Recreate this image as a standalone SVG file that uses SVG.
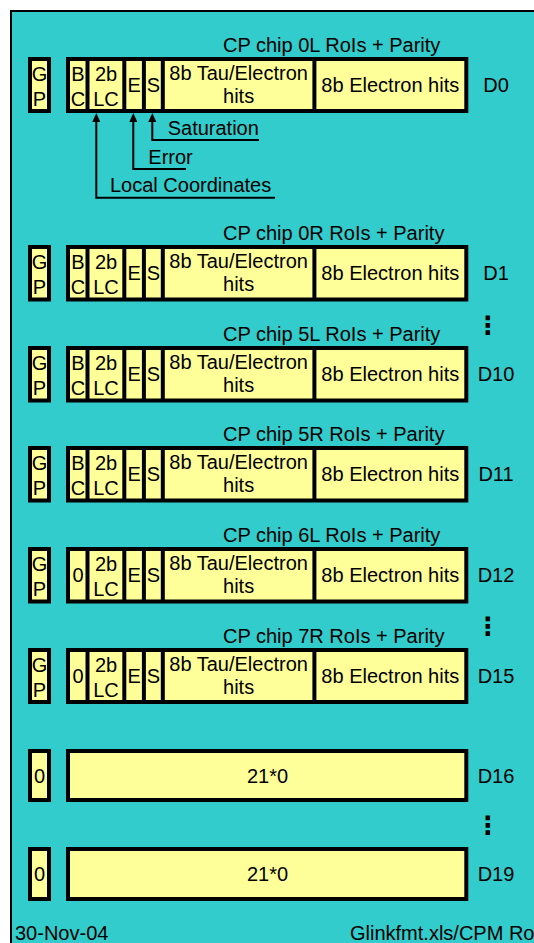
<svg xmlns="http://www.w3.org/2000/svg" width="534" height="943" viewBox="0 0 534 943">
<style>
  text { font-family: "Liberation Sans", Arial, sans-serif; font-size: 20px; fill: #000; }
  .m { text-anchor: middle; }
  .box { fill: #FFFF99; stroke: #000; stroke-width: 4; }
  .div { stroke: #000; stroke-width: 4; }
  .lead { fill: none; stroke: #000; stroke-width: 2; }
  .dots { font-family: "DejaVu Sans", sans-serif; font-weight: bold; font-size: 25px; text-anchor: middle; }
</style>
<defs>
  <marker id="arr" markerUnits="userSpaceOnUse" markerWidth="9" markerHeight="8" viewBox="0 0 9 8" refX="0" refY="4" orient="auto">
    <path d="M0,0 L9,4 L0,8 z" fill="#000"/>
  </marker>
</defs>
<rect x="0" y="0" width="534" height="943" fill="#fff"/>
<rect x="11" y="11" width="540" height="950" fill="#33CCCC" stroke="#000" stroke-width="2"/>

<g id="D0" transform="translate(0,59)">
  <text x="223" y="-7">CP chip 0L RoIs + Parity</text>
  <rect class="box" x="30" y="0" width="19" height="52"/>
  <text class="m" x="39.5" y="22">G</text><text class="m" x="39.5" y="46.5">P</text>
  <rect class="box" x="68" y="0" width="398.3" height="52"/>
  <line class="div" x1="87.5" y1="0" x2="87.5" y2="52"/><line class="div" x1="124.3" y1="0" x2="124.3" y2="52"/>
  <line class="div" x1="143.9" y1="0" x2="143.9" y2="52"/><line class="div" x1="162.8" y1="0" x2="162.8" y2="52"/>
  <line class="div" x1="314.4" y1="0" x2="314.4" y2="52"/>
  <text class="m" x="78" y="22">B</text><text class="m" x="78" y="46.5">C</text>
  <text class="m" x="106" y="22">2b</text><text class="m" x="106" y="46.5">LC</text>
  <text class="m" x="134.1" y="33">E</text><text class="m" x="153.4" y="33">S</text>
  <text class="m" x="238.6" y="20.5">8b Tau/Electron</text><text class="m" x="238.6" y="44">hits</text>
  <text class="m" x="390.3" y="33">8b Electron hits</text>
  <text class="m" x="496" y="33">D0</text>
</g>

<g id="connectors">
  <path class="lead" d="M259,140 H152.3 V122" marker-end="url(#arr)"/>
  <path class="lead" d="M186,169 H133.3 V122" marker-end="url(#arr)"/>
  <path class="lead" d="M275,197.7 H96.3 V122" marker-end="url(#arr)"/>
  <text x="167.7" y="135">Saturation</text>
  <text x="148.3" y="163.7">Error</text>
  <text x="110" y="192.3">Local Coordinates</text>
</g>

<g id="D1" transform="translate(0,247)">
  <text x="223" y="-7">CP chip 0R RoIs + Parity</text>
  <rect class="box" x="30" y="0" width="19" height="52.5"/>
  <text class="m" x="39.5" y="22">G</text><text class="m" x="39.5" y="46.5">P</text>
  <rect class="box" x="68" y="0" width="398.3" height="52.5"/>
  <line class="div" x1="87.5" y1="0" x2="87.5" y2="52.5"/><line class="div" x1="124.3" y1="0" x2="124.3" y2="52.5"/>
  <line class="div" x1="143.9" y1="0" x2="143.9" y2="52.5"/><line class="div" x1="162.8" y1="0" x2="162.8" y2="52.5"/>
  <line class="div" x1="314.4" y1="0" x2="314.4" y2="52.5"/>
  <text class="m" x="78" y="22">B</text><text class="m" x="78" y="46.5">C</text>
  <text class="m" x="106" y="22">2b</text><text class="m" x="106" y="46.5">LC</text>
  <text class="m" x="134.1" y="33">E</text><text class="m" x="153.4" y="33">S</text>
  <text class="m" x="238.6" y="20.5">8b Tau/Electron</text><text class="m" x="238.6" y="44">hits</text>
  <text class="m" x="390.3" y="33">8b Electron hits</text>
  <text class="m" x="496" y="33">D1</text>
</g>

<text class="dots" x="488" y="334">⋮</text>

<g id="D10" transform="translate(0,348)">
  <text x="223" y="-7">CP chip 5L RoIs + Parity</text>
  <rect class="box" x="30" y="0" width="19" height="52.5"/>
  <text class="m" x="39.5" y="22">G</text><text class="m" x="39.5" y="46.5">P</text>
  <rect class="box" x="68" y="0" width="398.3" height="52.5"/>
  <line class="div" x1="87.5" y1="0" x2="87.5" y2="52.5"/><line class="div" x1="124.3" y1="0" x2="124.3" y2="52.5"/>
  <line class="div" x1="143.9" y1="0" x2="143.9" y2="52.5"/><line class="div" x1="162.8" y1="0" x2="162.8" y2="52.5"/>
  <line class="div" x1="314.4" y1="0" x2="314.4" y2="52.5"/>
  <text class="m" x="78" y="22">B</text><text class="m" x="78" y="46.5">C</text>
  <text class="m" x="106" y="22">2b</text><text class="m" x="106" y="46.5">LC</text>
  <text class="m" x="134.1" y="33">E</text><text class="m" x="153.4" y="33">S</text>
  <text class="m" x="238.6" y="20.5">8b Tau/Electron</text><text class="m" x="238.6" y="44">hits</text>
  <text class="m" x="390.3" y="33">8b Electron hits</text>
  <text class="m" x="496" y="33">D10</text>
</g>

<g id="D11" transform="translate(0,448)">
  <text x="223" y="-7">CP chip 5R RoIs + Parity</text>
  <rect class="box" x="30" y="0" width="19" height="52.5"/>
  <text class="m" x="39.5" y="22">G</text><text class="m" x="39.5" y="46.5">P</text>
  <rect class="box" x="68" y="0" width="398.3" height="52.5"/>
  <line class="div" x1="87.5" y1="0" x2="87.5" y2="52.5"/><line class="div" x1="124.3" y1="0" x2="124.3" y2="52.5"/>
  <line class="div" x1="143.9" y1="0" x2="143.9" y2="52.5"/><line class="div" x1="162.8" y1="0" x2="162.8" y2="52.5"/>
  <line class="div" x1="314.4" y1="0" x2="314.4" y2="52.5"/>
  <text class="m" x="78" y="22">B</text><text class="m" x="78" y="46.5">C</text>
  <text class="m" x="106" y="22">2b</text><text class="m" x="106" y="46.5">LC</text>
  <text class="m" x="134.1" y="33">E</text><text class="m" x="153.4" y="33">S</text>
  <text class="m" x="238.6" y="20.5">8b Tau/Electron</text><text class="m" x="238.6" y="44">hits</text>
  <text class="m" x="390.3" y="33">8b Electron hits</text>
  <text class="m" x="496" y="33">D11</text>
</g>

<g id="D12" transform="translate(0,549)">
  <text x="223" y="-7">CP chip 6L RoIs + Parity</text>
  <rect class="box" x="30" y="0" width="19" height="52.5"/>
  <text class="m" x="39.5" y="22">G</text><text class="m" x="39.5" y="46.5">P</text>
  <rect class="box" x="68" y="0" width="398.3" height="52.5"/>
  <line class="div" x1="87.5" y1="0" x2="87.5" y2="52.5"/><line class="div" x1="124.3" y1="0" x2="124.3" y2="52.5"/>
  <line class="div" x1="143.9" y1="0" x2="143.9" y2="52.5"/><line class="div" x1="162.8" y1="0" x2="162.8" y2="52.5"/>
  <line class="div" x1="314.4" y1="0" x2="314.4" y2="52.5"/>
  <text class="m" x="78" y="33">0</text>
  <text class="m" x="106" y="22">2b</text><text class="m" x="106" y="46.5">LC</text>
  <text class="m" x="134.1" y="33">E</text><text class="m" x="153.4" y="33">S</text>
  <text class="m" x="238.6" y="20.5">8b Tau/Electron</text><text class="m" x="238.6" y="44">hits</text>
  <text class="m" x="390.3" y="33">8b Electron hits</text>
  <text class="m" x="496" y="33">D12</text>
</g>

<text class="dots" x="488" y="635">⋮</text>

<g id="D15" transform="translate(0,650)">
  <text x="223" y="-7">CP chip 7R RoIs + Parity</text>
  <rect class="box" x="30" y="0" width="19" height="52"/>
  <text class="m" x="39.5" y="22">G</text><text class="m" x="39.5" y="46.5">P</text>
  <rect class="box" x="68" y="0" width="398.3" height="52"/>
  <line class="div" x1="87.5" y1="0" x2="87.5" y2="52"/><line class="div" x1="124.3" y1="0" x2="124.3" y2="52"/>
  <line class="div" x1="143.9" y1="0" x2="143.9" y2="52"/><line class="div" x1="162.8" y1="0" x2="162.8" y2="52"/>
  <line class="div" x1="314.4" y1="0" x2="314.4" y2="52"/>
  <text class="m" x="78" y="33">0</text>
  <text class="m" x="106" y="22">2b</text><text class="m" x="106" y="46.5">LC</text>
  <text class="m" x="134.1" y="33">E</text><text class="m" x="153.4" y="33">S</text>
  <text class="m" x="238.6" y="20.5">8b Tau/Electron</text><text class="m" x="238.6" y="44">hits</text>
  <text class="m" x="390.3" y="33">8b Electron hits</text>
  <text class="m" x="496" y="33">D15</text>
</g>

<g id="D16" transform="translate(0,751)">
  <rect class="box" x="30" y="0" width="19" height="49"/>
  <text class="m" x="39.5" y="31.5">0</text>
  <rect class="box" x="68" y="0" width="398.3" height="49"/>
  <text class="m" x="267.5" y="31.5">21*0</text>
  <text class="m" x="496" y="31.5">D16</text>
</g>

<text class="dots" x="488" y="834">⋮</text>

<g id="D19" transform="translate(0,849)">
  <rect class="box" x="30" y="0" width="19" height="50"/>
  <text class="m" x="39.5" y="32">0</text>
  <rect class="box" x="68" y="0" width="398.3" height="50"/>
  <text class="m" x="267.5" y="32">21*0</text>
  <text class="m" x="496" y="32">D19</text>
</g>

<g id="footer">
  <text x="15" y="940">30-Nov-04</text>
  <text x="350" y="940">Glinkfmt.xls/CPM Ro</text>
</g>
</svg>
